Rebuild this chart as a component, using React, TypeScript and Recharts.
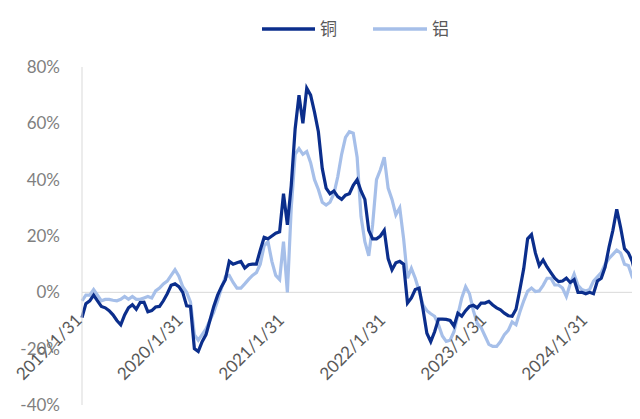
import { LineChart, Line, XAxis, YAxis, ReferenceLine } from "recharts"

// biweekly observations starting 2019/1/31, year-on-year change in %
const copper = [
  -9, -4, -3, -1, -3, -5, -5.5, -6.5, -8, -10,
  -11.5, -8, -5.5, -4.4, -6, -3.6, -3.5, -6.9, -6.5, -5.2,
  -5, -3, -0.5, 2.5, 3, 2, 0, -4.8, -5, -20,
  -21, -17.5, -15, -10, -5, -1, 2, 4.5, 11, 10,
  10.5, 11, 8.6, 9.8, 10, 10, 15, 19.5, 19, 20,
  21, 21.5, 35, 24, 38, 58, 70, 60, 72.5, 70,
  64, 57, 44, 37, 35, 36, 34, 33, 34.5, 35,
  38, 40, 36, 33, 22, 19, 19, 20, 22, 12,
  8, 10.5, 11, 10, -3.8, -2, 1, 1.5, -6, -14.5,
  -17.5, -14, -9.5, -9.5, -9.6, -10, -12, -7.4, -8.5, -6.5,
  -5, -4.6, -5.5, -3.8, -3.8, -3.2, -4.5, -5.5, -6.2, -7.4,
  -8.3, -8.5, -6, 1, 8.5, 19, 20.5, 14, 9.5, 11.5,
  9, 7, 5, 3.8, 4, 5, 3.5, 4.5, 0, 0,
  -0.5, 0, -0.5, 4, 5, 9, 16, 22, 29.5, 23,
  15.5, 14, 11, 5.5, 6,
]

const aluminum = [
  -3, -1, -1, 1, -1, -3, -2.5, -2.5, -2.8, -3,
  -2.5, -1.5, -2.5, -1.5, -2.5, -2.5, -2, -1.5, -2, 0.5,
  1.5, 3, 4, 6, 8, 5.7, 2, 0, -3.5, -15,
  -17, -15, -13, -10, -7, -3, 1.5, 5.5, 6, 3.5,
  1.5, 1.5, 3, 4.6, 6, 7, 10, 16.5, 18, 11,
  6, 4.5, 18, 0, 30, 49, 51, 49, 50, 46,
  40, 36.5, 32, 31, 32, 35, 41, 49, 55, 57,
  56.5, 48, 27, 18, 13, 24, 40, 43.5, 48, 37,
  33, 27.5, 30, 19, 5, 8.5, 5, 0.5, -4.5, -6.5,
  -7.6, -8.5, -11.5, -15.5, -17.4, -17, -14, -8, -2, 2,
  -0.5, -6.5, -11, -12.5, -15.5, -18.5, -19.2, -19.2, -17.5, -15,
  -13.5, -10.5, -11.5, -7, -3, 0.4, 1.5, 0.3, 0.5, 2.5,
  5, 5, 2.6, 2.6, 1.5, -1.5, 3, 6.5, 2.5, 1,
  0.5, 1, 4, 5.5, 7, 10, 12, 13.5, 15, 14,
  10, 9.5, 5.5, 3.3, 2.7,
]

const yTicks = [-40, -20, 0, 20, 40, 60, 80]
const xTickLabels = ["2019/1/31", "2020/1/31", "2021/1/31", "2022/1/31", "2023/1/31", "2024/1/31"]

const DAY = 86400000
const start = Date.UTC(2019, 0, 31)
const STEP = 14

const toDay = (label: string) => {
  const [y, m, d] = label.split("/").map(Number)
  return Math.round((Date.UTC(y, m - 1, d) - start) / DAY)
}

const xTicks = xTickLabels.map(toDay)
const lastDay = (copper.length - 1) * STEP

const data = copper.map((v, i) => ({
  day: i * STEP,
  copper: v,
  aluminum: aluminum[i],
}))

const W = 632
const H = 411
const TOP = 59
const X_AXIS_H = 14
const PLOT_H = H - TOP - X_AXIS_H
const ZERO_Y = TOP + (PLOT_H * 80) / 120

const DARK = "#0b2e8c"
const LIGHT = "#a6bfe9"
const FONT = "Lato, 'Noto Sans CJK SC', sans-serif"

function DateTick(props: any) {
  const { x, payload } = props
  const label = xTickLabels[xTicks.indexOf(payload.value)] ?? ""
  return (
    <text
      transform={`translate(${x + 1},${ZERO_Y + 29}) rotate(-45)`}
      textAnchor="end"
      fontSize={17}
      fontFamily={FONT}
      fill="#595959"
    >
      {label}
    </text>
  )
}

function LegendKey() {
  return (
    <svg width={W} height={50} style={{ position: "absolute", left: 0, top: 0 }}>
      <line x1={254} x2={307} y1={21} y2={21} stroke={DARK} strokeWidth={3.5} />
      <text x={312} y={27} fontSize={17} fontFamily="'Noto Sans CJK SC'" fill="#595959">
        铜
      </text>
      <line x1={365} x2={419} y1={21} y2={21} stroke={LIGHT} strokeWidth={3.5} />
      <text x={424} y={27} fontSize={17} fontFamily="'Noto Sans CJK SC'" fill="#595959">
        铝
      </text>
    </svg>
  )
}

export default function App() {
  return (
    // negative bottom margin keeps the page from growing past the viewport
    <div style={{ position: "relative", width: W, height: H, marginBottom: -8 }}>
      <LineChart
        width={W}
        height={H}
        data={data}
        margin={{ top: TOP, right: 0, left: 0, bottom: 0 }}
      >
        <XAxis
          dataKey="day"
          type="number"
          domain={[0, lastDay]}
          ticks={xTicks}
          height={X_AXIS_H}
          axisLine={false}
          tickLine={false}
          tick={<DateTick />}
          interval={0}
        />
        <YAxis
          domain={[-40, 80]}
          ticks={yTicks}
          width={74}
          axisLine={{ stroke: "#d9d9d9" }}
          tickLine={false}
          tickSize={0}
          tickMargin={22}
          tickFormatter={(v: number) => `${v}%`}
          tick={{ fontSize: 17, fontFamily: FONT, fill: "#7f7f7f" }}
          interval={0}
        />
        <ReferenceLine y={0} stroke="#d9d9d9" strokeWidth={1} />
        <Line
          type="linear"
          dataKey="aluminum"
          name="铝"
          stroke={LIGHT}
          strokeWidth={3.2}
          dot={false}
          isAnimationActive={false}
        />
        <Line
          type="linear"
          dataKey="copper"
          name="铜"
          stroke={DARK}
          strokeWidth={3.2}
          dot={false}
          isAnimationActive={false}
        />
      </LineChart>
      <LegendKey />
    </div>
  )
}
